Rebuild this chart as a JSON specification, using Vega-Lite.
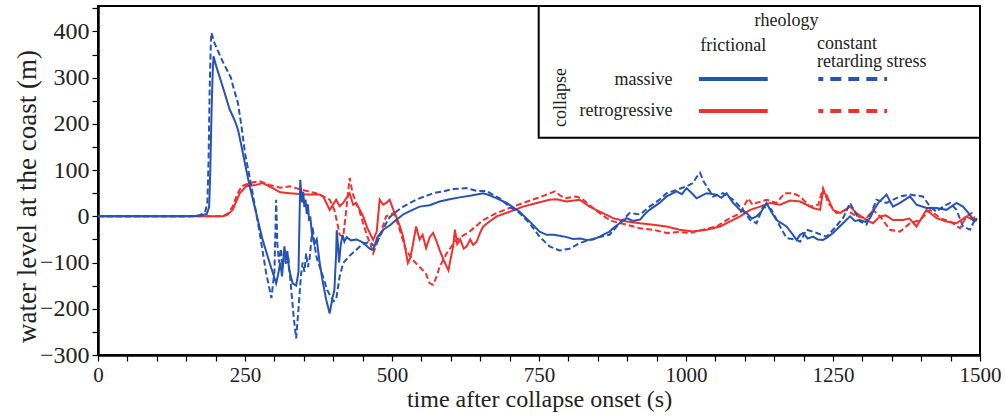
{
  "$schema": "https://vega.github.io/schema/vega-lite/v6.json",
  "autosize": {"type": "none"},
  "width": 882,
  "height": 349,
  "padding": {"left": 98, "top": 6, "right": 26, "bottom": 64},
  "background": "white",
  "config": {
    "view": {"stroke": "black", "strokeWidth": 2},
    "font": "Liberation Serif, Times New Roman, Times, serif",
    "axis": {"labelOverlap": false, "labelFlush": false, "grid": false},
    "text": {"font": "Liberation Serif, Times New Roman, Times, serif", "fontSize": 18, "color": "#222"}
  },
  "resolve": {"axis": {"x": "independent", "y": "independent"}},
  "datasets": {
    "massive_frictional": [
      {"time":0,"level":0},{"time":160,"level":0},{"time":175,"level":2},{"time":185,"level":5},{"time":189,"level":20},{"time":191,"level":100},{"time":193,"level":220},{"time":195,"level":310},{"time":196.5,"level":346},{"time":201,"level":325},{"time":212,"level":281},{"time":224,"level":231},{"time":232,"level":209},{"time":238,"level":188},{"time":244,"level":152},{"time":252,"level":101},{"time":258,"level":65},{"time":269,"level":7},{"time":280,"level":-51},{"time":292,"level":-101},{"time":303,"level":-145},{"time":306,"level":-128},{"time":310,"level":-100},{"time":313,"level":-130},{"time":317,"level":-65},{"time":320,"level":-95},{"time":322,"level":-75},{"time":325,"level":-115},{"time":331,"level":-145},{"time":337,"level":-150},{"time":341,"level":-120},{"time":344,"level":79},{"time":347,"level":30},{"time":349,"level":53},{"time":351,"level":20},{"time":353,"level":36},{"time":355,"level":5},{"time":357,"level":26},{"time":359,"level":-10},{"time":361,"level":0},{"time":364,"level":-40},{"time":368,"level":-60},{"time":372,"level":-50},{"time":377,"level":-100},{"time":382,"level":-140},{"time":388,"level":-180},{"time":394,"level":-210},{"time":399,"level":-175},{"time":402,"level":-160},{"time":405,"level":-80},{"time":406,"level":-30},{"time":408,"level":-60},{"time":410,"level":-100},{"time":413,"level":-60},{"time":416,"level":-40},{"time":419,"level":-55},{"time":423,"level":-45},{"time":430,"level":-52},{"time":440,"level":-50},{"time":451,"level":-57},{"time":462,"level":-70},{"time":468,"level":-73},{"time":475,"level":-45},{"time":485,"level":-29},{"time":496,"level":-20},{"time":507,"level":-8},{"time":520,"level":5},{"time":535,"level":14},{"time":547,"level":21},{"time":564,"level":24},{"time":581,"level":32},{"time":598,"level":37},{"time":615,"level":41},{"time":635,"level":45},{"time":655,"level":50},{"time":665,"level":46},{"time":678,"level":39},{"time":695,"level":29},{"time":717,"level":10},{"time":734,"level":-11},{"time":751,"level":-33},{"time":763,"level":-40},{"time":775,"level":-40},{"time":785,"level":-42},{"time":797,"level":-45},{"time":808,"level":-49},{"time":820,"level":-48},{"time":831,"level":-51},{"time":842,"level":-50},{"time":853,"level":-44},{"time":862,"level":-38},{"time":870,"level":-33},{"time":876,"level":-26},{"time":887,"level":-15},{"time":899,"level":-4},{"time":910,"level":-10},{"time":922,"level":-7},{"time":930,"level":5},{"time":938,"level":14},{"time":955,"level":29},{"time":967,"level":43},{"time":984,"level":54},{"time":993,"level":48},{"time":1001,"level":61},{"time":1010,"level":50},{"time":1018,"level":39},{"time":1027,"level":45},{"time":1035,"level":50},{"time":1052,"level":47},{"time":1060,"level":40},{"time":1069,"level":50},{"time":1080,"level":29},{"time":1092,"level":14},{"time":1103,"level":7},{"time":1112,"level":-5},{"time":1120,"level":0},{"time":1128,"level":10},{"time":1137,"level":29},{"time":1145,"level":10},{"time":1154,"level":-8},{"time":1171,"level":-22},{"time":1182,"level":-40},{"time":1188,"level":-51},{"time":1194,"level":-40},{"time":1199,"level":-36},{"time":1207,"level":-48},{"time":1216,"level":-44},{"time":1224,"level":-50},{"time":1233,"level":-51},{"time":1241,"level":-45},{"time":1250,"level":-36},{"time":1267,"level":-15},{"time":1279,"level":0},{"time":1287,"level":-10},{"time":1296,"level":-8},{"time":1305,"level":-12},{"time":1313,"level":-4},{"time":1320,"level":15},{"time":1327,"level":29},{"time":1341,"level":47},{"time":1352,"level":21},{"time":1364,"level":29},{"time":1381,"level":43},{"time":1392,"level":25},{"time":1409,"level":18},{"time":1426,"level":18},{"time":1443,"level":14},{"time":1460,"level":29},{"time":1471,"level":21},{"time":1483,"level":3},{"time":1490,"level":-11},{"time":1495,"level":-5}
    ],
    "massive_constant": [
      {"time":0,"level":0},{"time":155,"level":0},{"time":172,"level":2},{"time":182,"level":8},{"time":186,"level":30},{"time":188,"level":120},{"time":190,"level":280},{"time":192,"level":380},{"time":193,"level":397},{"time":198,"level":375},{"time":205,"level":355},{"time":212,"level":335},{"time":220,"level":315},{"time":226,"level":300},{"time":230,"level":280},{"time":238,"level":245},{"time":244,"level":195},{"time":250,"level":137},{"time":263,"level":50},{"time":275,"level":-36},{"time":286,"level":-123},{"time":295,"level":-177},{"time":300,"level":-120},{"time":303,"level":36},{"time":305,"level":-60},{"time":308,"level":-100},{"time":311,"level":-70},{"time":314,"level":-110},{"time":317,"level":-80},{"time":320,"level":-105},{"time":324,"level":-95},{"time":328,"level":-150},{"time":333,"level":-220},{"time":337,"level":-264},{"time":341,"level":-200},{"time":345,"level":-130},{"time":348,"level":-100},{"time":351,"level":-120},{"time":354,"level":-80},{"time":357,"level":-110},{"time":360,"level":-90},{"time":365,"level":-22},{"time":368,"level":-60},{"time":372,"level":-90},{"time":380,"level":-120},{"time":390,"level":-160},{"time":400,"level":-184},{"time":405,"level":-180},{"time":411,"level":-130},{"time":417,"level":-101},{"time":428,"level":-85},{"time":439,"level":-73},{"time":450,"level":-60},{"time":462,"level":-55},{"time":470,"level":-65},{"time":479,"level":-45},{"time":490,"level":-15},{"time":496,"level":-2},{"time":507,"level":10},{"time":519,"level":21},{"time":541,"level":36},{"time":564,"level":47},{"time":570,"level":50},{"time":587,"level":54},{"time":604,"level":59},{"time":627,"level":61},{"time":644,"level":55},{"time":660,"level":55},{"time":683,"level":39},{"time":700,"level":21},{"time":717,"level":7},{"time":734,"level":-15},{"time":751,"level":-44},{"time":768,"level":-65},{"time":785,"level":-74},{"time":802,"level":-70},{"time":819,"level":-58},{"time":836,"level":-51},{"time":853,"level":-45},{"time":870,"level":-40},{"time":887,"level":-15},{"time":904,"level":7},{"time":922,"level":4},{"time":938,"level":21},{"time":955,"level":36},{"time":967,"level":50},{"time":984,"level":57},{"time":1001,"level":65},{"time":1012,"level":72},{"time":1018,"level":85},{"time":1024,"level":94},{"time":1030,"level":75},{"time":1035,"level":65},{"time":1046,"level":43},{"time":1063,"level":50},{"time":1080,"level":36},{"time":1097,"level":14},{"time":1109,"level":-8},{"time":1120,"level":-15},{"time":1131,"level":21},{"time":1145,"level":15},{"time":1160,"level":-22},{"time":1171,"level":-47},{"time":1188,"level":-51},{"time":1194,"level":-55},{"time":1205,"level":-29},{"time":1220,"level":-35},{"time":1239,"level":-44},{"time":1250,"level":-29},{"time":1267,"level":-4},{"time":1279,"level":29},{"time":1296,"level":-11},{"time":1307,"level":-18},{"time":1324,"level":36},{"time":1341,"level":29},{"time":1364,"level":43},{"time":1381,"level":47},{"time":1403,"level":43},{"time":1415,"level":21},{"time":1426,"level":10},{"time":1437,"level":21},{"time":1449,"level":29},{"time":1460,"level":14},{"time":1471,"level":-22},{"time":1483,"level":-29},{"time":1491,"level":-8}
    ],
    "retrogressive_frictional": [
      {"time":0,"level":0},{"time":212,"level":0},{"time":220,"level":3},{"time":229,"level":14},{"time":236,"level":35},{"time":241,"level":50},{"time":252,"level":65},{"time":269,"level":68},{"time":280,"level":72},{"time":297,"level":61},{"time":310,"level":52},{"time":326,"level":50},{"time":354,"level":47},{"time":377,"level":47},{"time":383,"level":43},{"time":394,"level":14},{"time":405,"level":36},{"time":411,"level":22},{"time":417,"level":29},{"time":428,"level":50},{"time":434,"level":25},{"time":439,"level":29},{"time":445,"level":15},{"time":451,"level":0},{"time":458,"level":-25},{"time":468,"level":-51},{"time":474,"level":-33},{"time":479,"level":36},{"time":485,"level":25},{"time":490,"level":29},{"time":496,"level":36},{"time":502,"level":15},{"time":507,"level":0},{"time":513,"level":-20},{"time":519,"level":-44},{"time":524,"level":-80},{"time":527,"level":-101},{"time":531,"level":-90},{"time":535,"level":-65},{"time":541,"level":-22},{"time":547,"level":-50},{"time":552,"level":-40},{"time":558,"level":-69},{"time":564,"level":-45},{"time":570,"level":-36},{"time":576,"level":-55},{"time":581,"level":-73},{"time":588,"level":-95},{"time":593,"level":-109},{"time":596,"level":-117},{"time":600,"level":-90},{"time":604,"level":-65},{"time":607,"level":-29},{"time":611,"level":-60},{"time":616,"level":-50},{"time":622,"level":-70},{"time":627,"level":-65},{"time":633,"level":-50},{"time":638,"level":-62},{"time":644,"level":-55},{"time":650,"level":-35},{"time":655,"level":-22},{"time":667,"level":-10},{"time":678,"level":0},{"time":700,"level":10},{"time":723,"level":21},{"time":746,"level":29},{"time":768,"level":36},{"time":780,"level":37},{"time":797,"level":32},{"time":819,"level":36},{"time":836,"level":21},{"time":853,"level":10},{"time":870,"level":0},{"time":876,"level":-4},{"time":899,"level":-11},{"time":922,"level":-15},{"time":944,"level":-18},{"time":967,"level":-22},{"time":989,"level":-29},{"time":1012,"level":-33},{"time":1035,"level":-29},{"time":1058,"level":-22},{"time":1075,"level":-11},{"time":1092,"level":0},{"time":1109,"level":14},{"time":1126,"level":21},{"time":1143,"level":29},{"time":1160,"level":25},{"time":1177,"level":34},{"time":1194,"level":32},{"time":1216,"level":18},{"time":1228,"level":14},{"time":1233,"level":54},{"time":1239,"level":46},{"time":1250,"level":14},{"time":1262,"level":7},{"time":1279,"level":21},{"time":1290,"level":7},{"time":1307,"level":-8},{"time":1318,"level":-15},{"time":1330,"level":0},{"time":1340,"level":2},{"time":1352,"level":-8},{"time":1369,"level":-8},{"time":1380,"level":-5},{"time":1392,"level":-22},{"time":1409,"level":14},{"time":1426,"level":-4},{"time":1443,"level":-11},{"time":1460,"level":-15},{"time":1477,"level":0},{"time":1488,"level":-8},{"time":1495,"level":-5}
    ],
    "retrogressive_constant": [
      {"time":0,"level":0},{"time":210,"level":0},{"time":220,"level":5},{"time":229,"level":21},{"time":236,"level":45},{"time":244,"level":65},{"time":258,"level":72},{"time":275,"level":76},{"time":292,"level":68},{"time":310,"level":62},{"time":326,"level":65},{"time":348,"level":57},{"time":361,"level":53},{"time":371,"level":50},{"time":383,"level":43},{"time":394,"level":36},{"time":402,"level":14},{"time":407,"level":-15},{"time":411,"level":-40},{"time":417,"level":-44},{"time":421,"level":0},{"time":428,"level":83},{"time":433,"level":50},{"time":439,"level":29},{"time":445,"level":10},{"time":456,"level":-36},{"time":463,"level":-60},{"time":468,"level":-80},{"time":474,"level":-60},{"time":479,"level":-44},{"time":490,"level":0},{"time":502,"level":7},{"time":507,"level":-5},{"time":513,"level":-29},{"time":524,"level":-73},{"time":535,"level":-94},{"time":552,"level":-116},{"time":558,"level":-125},{"time":564,"level":-145},{"time":570,"level":-148},{"time":576,"level":-130},{"time":581,"level":-109},{"time":593,"level":-80},{"time":609,"level":-51},{"time":632,"level":-33},{"time":655,"level":-8},{"time":678,"level":7},{"time":700,"level":18},{"time":723,"level":29},{"time":746,"level":39},{"time":763,"level":47},{"time":777,"level":54},{"time":786,"level":45},{"time":794,"level":39},{"time":814,"level":43},{"time":825,"level":36},{"time":842,"level":18},{"time":853,"level":7},{"time":865,"level":-4},{"time":876,"level":-11},{"time":899,"level":-18},{"time":922,"level":-26},{"time":944,"level":-29},{"time":967,"level":-36},{"time":989,"level":-34},{"time":1006,"level":-36},{"time":1029,"level":-29},{"time":1052,"level":-22},{"time":1069,"level":-8},{"time":1092,"level":7},{"time":1106,"level":39},{"time":1113,"level":25},{"time":1120,"level":29},{"time":1137,"level":36},{"time":1154,"level":29},{"time":1168,"level":50},{"time":1182,"level":50},{"time":1194,"level":43},{"time":1211,"level":21},{"time":1225,"level":25},{"time":1233,"level":61},{"time":1242,"level":29},{"time":1256,"level":7},{"time":1273,"level":14},{"time":1290,"level":0},{"time":1307,"level":-4},{"time":1318,"level":14},{"time":1330,"level":0},{"time":1347,"level":-29},{"time":1364,"level":-33},{"time":1381,"level":-15},{"time":1398,"level":-8},{"time":1415,"level":14},{"time":1432,"level":-4},{"time":1449,"level":-11},{"time":1466,"level":-26},{"time":1477,"level":0},{"time":1486,"level":7},{"time":1494,"level":-11}
    ]
  },
  "layer": [
    {
      "encoding": {
        "x": {
          "field": "time", "type": "quantitative",
          "scale": {"domain": [0, 1500], "nice": false, "zero": false},
          "axis": {
            "title": "time after collapse onset (s)",
            "values": [0,50,100,150,200,250,300,350,400,450,500,550,600,650,700,750,800,850,900,950,1000,1050,1100,1150,1200,1250,1300,1350,1400,1450,1500],
            "format": "d",
            "labelExpr": "datum.value % 250 === 0 ? datum.label : ''",
            "labelFlush": false, "labelOverlap": false,
            "grid": false, "tickSize": 6, "tickColor": "black", "tickWidth": 1.2,
            "domainColor": "black", "domainWidth": 2.5,
            "labelFont": "Liberation Serif, Times New Roman, Times, serif", "labelFontSize": 21, "labelColor": "#222", "labelPadding": 3,
            "titleFont": "Liberation Serif, Times New Roman, Times, serif", "titleFontSize": 24, "titleFontWeight": "normal", "titleColor": "#222", "titlePadding": 2
          }
        },
        "y": {
          "field": "level", "type": "quantitative",
          "scale": {"domain": [-300, 455], "nice": false, "zero": false},
          "axis": {
            "title": "water level at the coast (m)",
            "values": [-300,-250,-200,-150,-100,-50,0,50,100,150,200,250,300,350,400,450],
            "format": "d",
            "labelExpr": "datum.value % 100 === 0 ? datum.label : ''",
            "labelFlush": false, "labelOverlap": false,
            "grid": false, "tickSize": 6, "tickColor": "black", "tickWidth": 1.2,
            "domainColor": "black", "domainWidth": 2.5,
            "labelFont": "Liberation Serif, Times New Roman, Times, serif", "labelFontSize": 24, "labelColor": "#222", "labelPadding": 3,
            "titleFont": "Liberation Serif, Times New Roman, Times, serif", "titleFontSize": 27, "titleFontWeight": "normal", "titleColor": "#222", "titlePadding": -2, "titleY": 190
          }
        }
      },
      "layer": [
        {"data": {"name": "retrogressive_frictional"}, "mark": {"type": "line", "color": "#f0302e", "strokeWidth": 2, "clip": true}},
        {"data": {"name": "retrogressive_constant"}, "mark": {"type": "line", "color": "#f0302e", "strokeWidth": 2, "strokeDash": [6, 3], "clip": true}},
        {"data": {"name": "massive_frictional"}, "mark": {"type": "line", "color": "#2753b3", "strokeWidth": 2, "clip": true}},
        {"data": {"name": "massive_constant"}, "mark": {"type": "line", "color": "#2753b3", "strokeWidth": 2, "strokeDash": [6, 3], "clip": true}}
      ]
    },
    {"data": {"values": [{}]}, "mark": {"type": "rect", "fill": "white", "stroke": "black", "strokeWidth": 2},
      "encoding": {"x": {"datum": 749.5, "type": "quantitative", "axis": null}, "x2": {"datum": 1500}, "y": {"datum": 455, "type": "quantitative", "axis": null}, "y2": {"datum": 170}}},
    {"data": {"values": [{}]}, "mark": {"type": "text", "align": "center", "baseline": "middle"},
      "encoding": {"x": {"datum": 1171, "type": "quantitative", "axis": null}, "y": {"datum": 422, "type": "quantitative", "axis": null}, "text": {"value": "rheology"}}},
    {"data": {"values": [{}]}, "mark": {"type": "text", "align": "center", "baseline": "middle"},
      "encoding": {"x": {"datum": 1080.5, "type": "quantitative", "axis": null}, "y": {"datum": 368, "type": "quantitative", "axis": null}, "text": {"value": "frictional"}}},
    {"data": {"values": [{}]}, "mark": {"type": "text", "align": "left", "baseline": "middle"},
      "encoding": {"x": {"datum": 1223, "type": "quantitative", "axis": null}, "y": {"datum": 372, "type": "quantitative", "axis": null}, "text": {"value": "constant"}}},
    {"data": {"values": [{}]}, "mark": {"type": "text", "align": "left", "baseline": "middle"},
      "encoding": {"x": {"datum": 1223, "type": "quantitative", "axis": null}, "y": {"datum": 333, "type": "quantitative", "axis": null}, "text": {"value": "retarding stress"}}},
    {"data": {"values": [{}]}, "mark": {"type": "text", "align": "right", "baseline": "middle"},
      "encoding": {"x": {"datum": 977, "type": "quantitative", "axis": null}, "y": {"datum": 295, "type": "quantitative", "axis": null}, "text": {"value": "massive"}}},
    {"data": {"values": [{}]}, "mark": {"type": "text", "align": "right", "baseline": "middle"},
      "encoding": {"x": {"datum": 977, "type": "quantitative", "axis": null}, "y": {"datum": 228, "type": "quantitative", "axis": null}, "text": {"value": "retrogressive"}}},
    {"data": {"values": [{}]}, "mark": {"type": "text", "align": "center", "baseline": "middle", "angle": 270},
      "encoding": {"x": {"datum": 788, "type": "quantitative", "axis": null}, "y": {"datum": 257, "type": "quantitative", "axis": null}, "text": {"value": "collapse"}}},
    {"data": {"values": [{}]}, "mark": {"type": "rule", "color": "#2753b3", "strokeWidth": 4},
      "encoding": {"x": {"datum": 1022, "type": "quantitative", "axis": null}, "x2": {"datum": 1139}, "y": {"datum": 297, "type": "quantitative", "axis": null}}},
    {"data": {"values": [{}]}, "mark": {"type": "rule", "color": "#f0302e", "strokeWidth": 4},
      "encoding": {"x": {"datum": 1022, "type": "quantitative", "axis": null}, "x2": {"datum": 1139}, "y": {"datum": 228, "type": "quantitative", "axis": null}}},
    {"data": {"values": [{}]}, "mark": {"type": "rule", "color": "#2753b3", "strokeWidth": 4, "strokeDash": [11, 7], "strokeDashOffset": 6},
      "encoding": {"x": {"datum": 1225, "type": "quantitative", "axis": null}, "x2": {"datum": 1342}, "y": {"datum": 297, "type": "quantitative", "axis": null}}},
    {"data": {"values": [{}]}, "mark": {"type": "rule", "color": "#f0302e", "strokeWidth": 4, "strokeDash": [11, 7], "strokeDashOffset": 6},
      "encoding": {"x": {"datum": 1225, "type": "quantitative", "axis": null}, "x2": {"datum": 1342}, "y": {"datum": 228, "type": "quantitative", "axis": null}}}
  ]
}
